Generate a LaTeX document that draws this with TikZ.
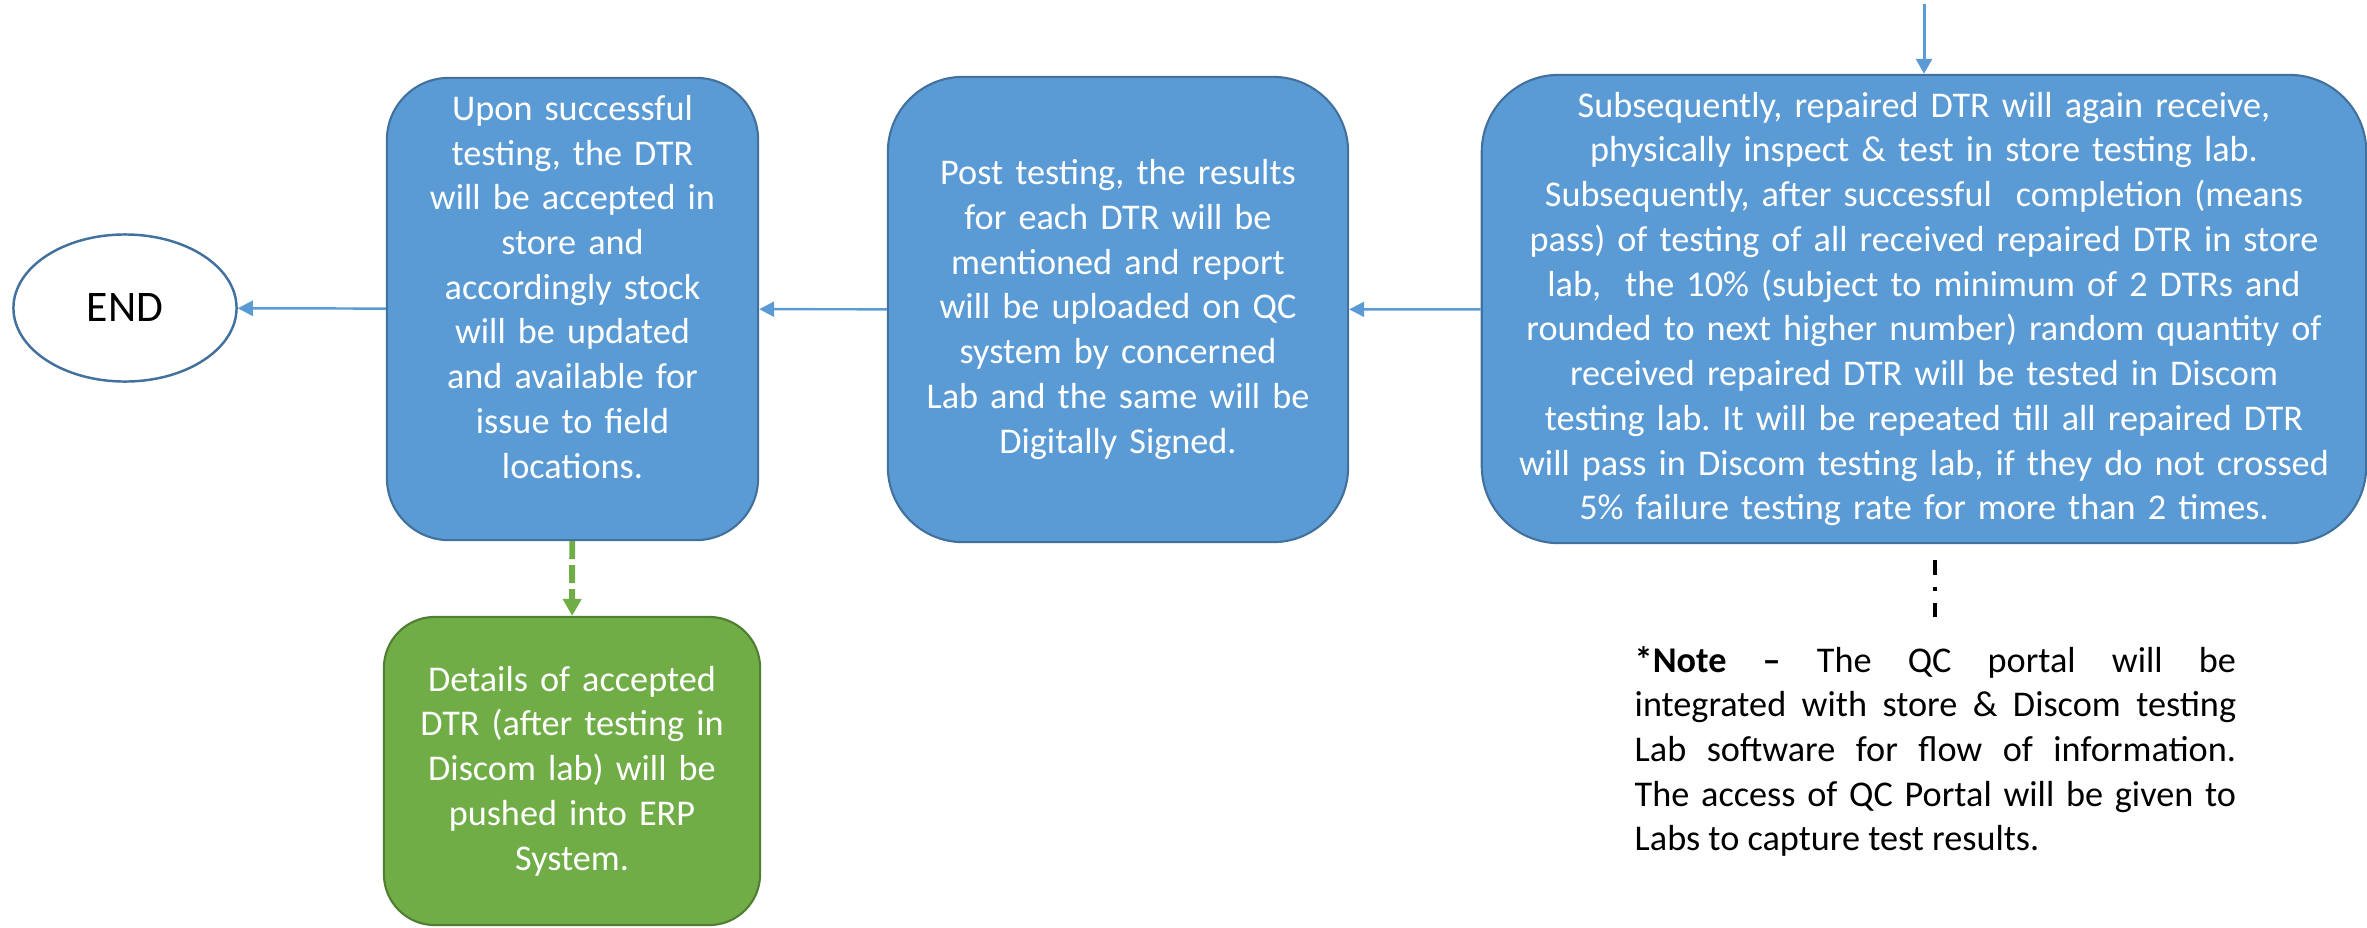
\documentclass[tikz,border=0pt]{standalone}
\usepackage{fontspec}
\setmainfont{Carlito}
\usetikzlibrary{arrows.meta, shapes.geometric}
\frenchspacing

\definecolor{boxblue}{HTML}{5B9BD5}
\definecolor{edgeblue}{HTML}{41719C}
\definecolor{boxgreen}{HTML}{70AD47}
\definecolor{edgegreen}{HTML}{507E32}

\begin{document}
\begin{tikzpicture}[x=0.01cm, y=-0.01cm,
   txt/.style={font=\fontsize{10.3}{12.72}\selectfont},
   stepbox/.style={txt, draw=edgeblue, fill=boxblue, line width=0.6pt, text=white,
                   align=center, inner sep=0pt},
   erpbox/.style={stepbox, draw=edgegreen, fill=boxgreen},
   endstate/.style={ellipse, draw=edgeblue, fill=white, line width=0.7pt,
                    minimum width=2.23cm, minimum height=1.47cm,
                    font=\fontsize{12.4}{15}\selectfont},
   flow/.style={-{Triangle[length=0.15cm,width=0.15cm]}, draw=boxblue, line width=0.7pt},
   erplink/.style={-{Triangle[length=0.17cm,width=0.18cm]}, draw=boxgreen, line width=1.7pt,
                   dash pattern=on 0.18cm off 0.06cm},
   notelink/.style={draw=black, line width=1.1pt, dash pattern=on 0.15cm off 0.12cm on 0.04cm off 0.12cm}]

   \useasboundingbox (0,0) rectangle (2367,927);

   % Nodes
      \node[endstate] (end) at (125,308) {END};
      \node[stepbox, rounded corners=0.62cm, minimum width=3.71cm, minimum height=4.62cm,
            text width=3.4cm] (accept) at (572.5,309)
           {Upon successful\\ testing, the DTR\\ will be accepted in\\ store and\\
            accordingly stock\\ will be updated\\ and available for\\ issue to field\\
            locations.\\\mbox{}};
      \node[stepbox, rounded corners=0.75cm, minimum width=4.60cm, minimum height=4.65cm,
            text width=4.3cm] (report) at (1118,309.5)
           {Post testing, the results\\ for each DTR will be\\ mentioned and report\\
            will be uploaded on QC\\ system by concerned\\ Lab and the same will be\\
            Digitally Signed.};
      \node[stepbox, rounded corners=0.77cm, minimum width=8.84cm, minimum height=4.68cm,
            text width=8.4cm] (retest) at (1924,309)
           {Subsequently, repaired DTR will again receive,\\
            physically inspect \& test in store testing lab.\\
            Subsequently, after successful\ \ completion (means\\
            pass) of testing of all received repaired DTR in store\\
            lab,\ \ the 10\% (subject to minimum of 2 DTRs and\\
            rounded to next higher number) random quantity of\\
            received repaired DTR will be tested in Discom\\
            testing lab. It will be repeated till all repaired DTR\\
            will pass in Discom testing lab, if they do not crossed\\
            5\% failure testing rate for more than 2 times.};
      \node[erpbox, rounded corners=0.51cm, minimum width=3.76cm, minimum height=3.08cm,
            text width=3.4cm] (erp) at (572,771)
           {Details of accepted\\ DTR (after testing in\\ Discom lab) will be\\
            pushed into ERP\\ System.};

   % Note
      \node[txt, text width=6.01cm, align=justify, inner sep=0pt, anchor=base west]
           (note) at (1634,672)
           {\textbf{*Note –} The QC portal will be\linebreak
            integrated with store \& Discom testing\linebreak
            Lab software for flow of information.\linebreak
            The access of QC Portal will be given to\linebreak
            Labs to capture test results.};
      \coordinate (entry) at (1924,4);
      \coordinate (tick) at (note.north |- retest.south);

   % Paths
      \draw[flow, line width=0.85pt, -{Triangle[length=0.15cm,width=0.16cm]}] (entry) -- (retest);
      \draw[flow] (retest) -- (report);
      \draw[flow] (report) -- (accept);
      \draw[flow] (accept) -- (end);
      \draw[erplink] (accept) -- (erp);
      \draw[notelink, shorten <=0.16cm, shorten >=0.28cm] (tick) -- (note.north);
   \end{tikzpicture}
\end{document}
